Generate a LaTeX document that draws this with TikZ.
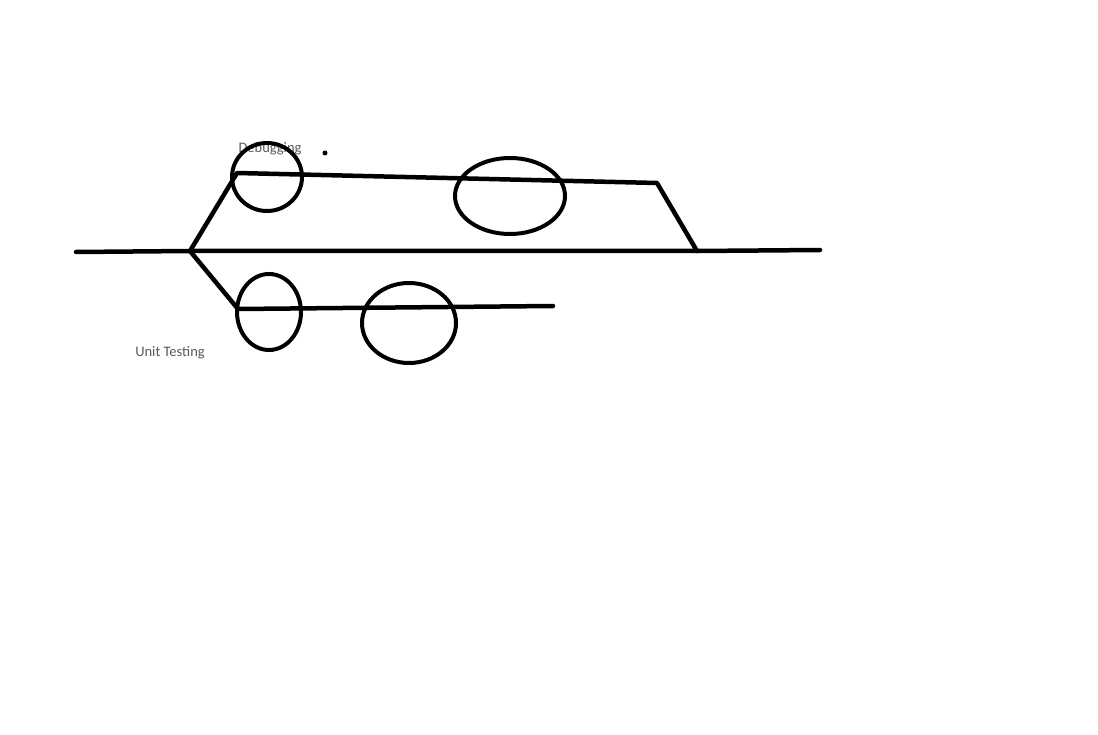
\documentclass[tikz,border=0pt]{standalone}
\usepackage{fontspec}
\setmainfont{Carlito}
\begin{document}
\begin{tikzpicture}[x=1pt,y=-1pt,
  stroke/.style={line width=4.5pt,line cap=round,line join=round,black},
  loop/.style={line width=4pt,black},
  lbl/.style={text=black!65,font=\fontsize{14.5}{16}\selectfont,inner sep=0pt}]
\useasboundingbox[fill=white] (0,0) rectangle (1098,735);
\node[lbl] (debug) at (270,149) {Debugging};
\node[lbl] (unit) at (170,353) {Unit Testing};
\coordinate (start) at (76,252);
\coordinate (split) at (190,251);
\coordinate (merge) at (697,251);
\coordinate (end) at (820,250);
\coordinate (upA) at (237,173);
\coordinate (upB) at (657,183);
\coordinate (loA) at (238,309);
\coordinate (loB) at (553,306);
\draw[stroke] (start) -- (split) -- (merge) -- (end);
\draw[stroke] (split) -- (upA) -- (upB) -- (merge);
\draw[stroke] (split) -- (loA) -- (loB);
\draw[loop] (267,177) ellipse [x radius=35,y radius=34];
\draw[loop] (510,196) ellipse [x radius=55,y radius=38];
\draw[loop] (269,312) ellipse [x radius=32,y radius=38];
\draw[loop] (409,323) ellipse [x radius=47,y radius=40];
\fill (325,153) circle (2.5);
\end{tikzpicture}
\end{document}
